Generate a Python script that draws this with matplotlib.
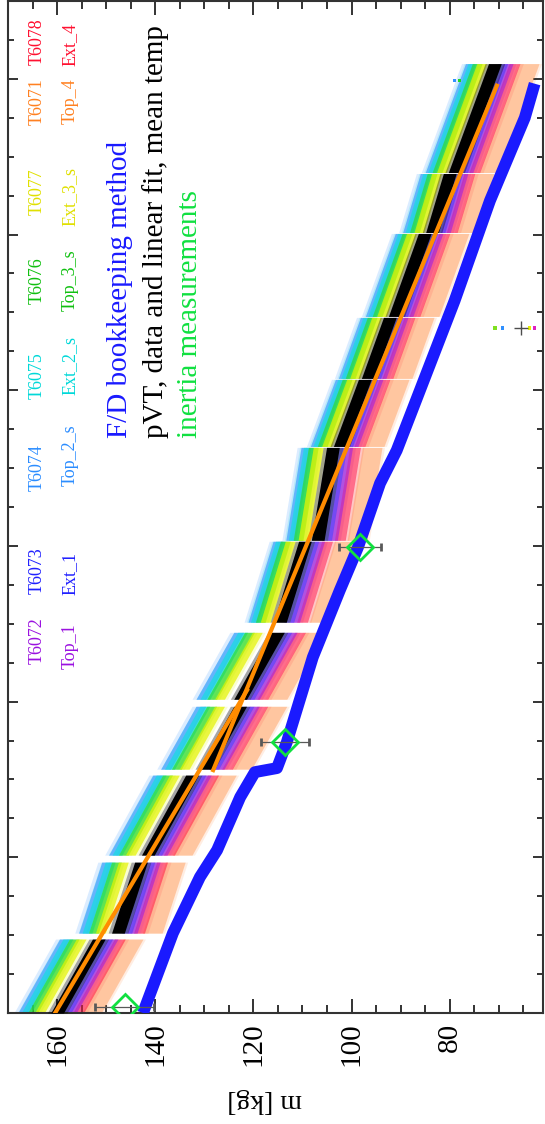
import matplotlib
matplotlib.use('Agg')
import matplotlib.pyplot as plt
from matplotlib.ticker import MultipleLocator, NullFormatter

plt.rcParams['font.family'] = ['Liberation Serif', 'DejaVu Serif']

# vertical axis: time [days], horizontal axis: mass m [kg] (decreasing to the right)
fd_time = [0.00, 0.513, 0.873, 1.046, 1.386, 1.547, 1.573, 1.739, 2.285, 2.715, 2.991,
           3.402, 3.614, 4.576, 5.218, 5.751, 5.969]
fd_mass = [142.5, 136.4, 130.9, 127.4, 122.7, 119.7, 115.2, 113.2, 107.9, 102.4, 98.7,
           94.2, 90.8, 79.0, 71.8, 64.7, 62.7]

fit1_time = [0.0, 2.073]
fit1_mass = [160.4, 121.3]
fit2_time = [1.560, 5.956]
fit2_mass = [128.2, 70.4]

inertia_time = [0.04, 1.74, 2.99]
inertia_mass = [146.2, 113.6, 98.3]
inertia_err = [6.0, 4.9, 4.3]

session_start = [0.000, 0.513, 1.014, 1.566, 2.015, 2.510, 3.036, 3.639, 4.076, 4.474, 5.013, 5.398]
session_end = [0.475, 0.969, 1.528, 1.970, 2.445, 3.030, 3.633, 4.070, 4.468, 5.007, 5.392, 6.098]

mean_start = [160.0, 147.6, 141.5, 129.9, 122.7, 114.6, 106.9, 102.4, 96.7, 91.2, 83.6, 79.0]
mean_end = [151.5, 142.9, 132.5, 122.7, 115.0, 109.5, 103.8, 97.3, 92.2, 85.1, 80.0, 70.8]

# drawn in this order (outer bands first)
sensor_names = ['T6071', 'T6078', 'T6072', 'T6073', 'T6074', 'T6075', 'T6076', 'T6077']
sensor_colors = ['#ffa060', '#ff1848', '#a020e0', '#3838ff', '#3898ff', '#10e0e0', '#30dc20', '#e4f400']
sensor_start = [
    [153.0, 140.6, 134.5, 122.4, 115.2, 106.6, 98.9, 95.4, 89.7, 84.2, 76.6, 72.0],
    [155.7, 143.3, 137.2, 125.4, 118.2, 110.1, 102.4, 98.4, 92.7, 87.2, 79.6, 75.0],
    [157.1, 144.7, 138.6, 127.0, 119.8, 111.6, 103.9, 99.7, 94.0, 88.5, 80.9, 76.3],
    [158.2, 145.8, 139.7, 128.1, 120.9, 112.8, 105.1, 100.8, 95.1, 89.6, 82.0, 77.4],
    [167.0, 154.6, 148.5, 137.9, 130.7, 120.1, 112.4, 107.4, 101.7, 96.2, 88.6, 84.0],
    [166.3, 153.9, 147.8, 137.1, 129.9, 119.6, 111.9, 106.9, 101.2, 95.7, 88.1, 83.5],
    [165.0, 152.6, 146.5, 135.7, 128.5, 118.6, 110.9, 106.0, 100.3, 94.8, 87.2, 82.6],
    [163.6, 151.2, 145.1, 134.1, 126.9, 117.6, 109.9, 105.1, 99.4, 93.9, 86.3, 81.7],
]
sensor_end = [
    [144.5, 135.9, 125.5, 115.2, 107.5, 101.5, 95.8, 90.3, 85.2, 78.1, 73.0, 63.8],
    [147.2, 138.6, 128.2, 118.2, 110.5, 105.0, 99.3, 93.3, 88.2, 81.1, 76.0, 66.8],
    [148.6, 140.0, 129.6, 119.8, 112.1, 106.5, 100.8, 94.6, 89.5, 82.4, 77.3, 68.1],
    [149.7, 141.1, 130.7, 120.9, 113.2, 107.7, 102.0, 95.7, 90.6, 83.5, 78.4, 69.2],
    [158.5, 149.9, 139.5, 130.7, 123.0, 115.0, 109.3, 102.3, 97.2, 90.1, 85.0, 75.8],
    [157.8, 149.2, 138.8, 129.9, 122.2, 114.5, 108.8, 101.8, 96.7, 89.6, 84.5, 75.3],
    [156.5, 147.9, 137.5, 128.5, 120.8, 113.5, 107.8, 100.9, 95.8, 88.7, 83.6, 74.4],
    [155.1, 146.5, 136.1, 126.9, 119.2, 112.5, 106.8, 100.0, 94.9, 87.8, 82.7, 73.5],
]
sensor_halfwidth = [2.0, 1.1, 1.0, 1.0, 1.0, 1.0, 1.0, 1.0]
sensor_halo = [2.5, 1.8, 1.6, 1.6, 1.8, 1.8, 1.6, 1.6]
sensor_alpha = [0.5, 0.55, 0.6, 0.5, 0.65, 0.65, 0.65, 0.7]

# isolated outlier readings
outlier_time = [4.40, 4.40, 4.40, 4.40, 5.99, 5.99]
outlier_mass = [70.8, 69.2, 63.7, 62.7, 79.0, 78.0]
outlier_colors = ['#80e020', '#3090ff', '#e8f000', '#e020c0', '#3090ff', '#20d820']
outlier_cross_time = [4.40]
outlier_cross_mass = [65.5]

label_ids = ['T6072', 'T6073', 'T6074', 'T6075', 'T6076', 'T6077', 'T6071', 'T6078']
label_names = ['Top_1', 'Ext_1', 'Top_2_s', 'Ext_2_s', 'Top_3_s', 'Ext_3_s', 'Top_4', 'Ext_4']
label_colors = ['#9a10e0', '#2020ff', '#2a8cff', '#00d8d8', '#10c010', '#e0e000', '#ff8020', '#ff1030']
label_id_pos = [0.368, 0.437, 0.539, 0.630, 0.724, 0.812, 0.901, 0.960]
label_name_pos = [0.363, 0.434, 0.551, 0.640, 0.724, 0.807, 0.901, 0.957]

fig = plt.figure(figsize=(5.45, 11.24), dpi=100)
ax = fig.add_axes([8 / 545, 111 / 1124, 535 / 545, 1012 / 1124])

# soft halo first, then the dense core of each reading band
for col, hh, ms, me in zip(sensor_colors, sensor_halo, sensor_start, sensor_end):
    for ts, te, a, b in zip(session_start, session_end, ms, me):
        ax.fill_betweenx([ts, te], [a - hh, b - hh], [a + hh, b + hh],
                         color=col, alpha=0.18, lw=0, zorder=1)
for col, al, hw, ms, me in zip(sensor_colors, sensor_alpha, sensor_halfwidth, sensor_start, sensor_end):
    for ts, te, a, b in zip(session_start, session_end, ms, me):
        ax.fill_betweenx([ts, te], [a - hw, b - hw], [a + hw, b + hw], color=col, alpha=al,
                         lw=0, zorder=2)
for ts, te, a, b in zip(session_start, session_end, mean_start, mean_end):
    ax.fill_betweenx([ts, te], [a - 2.0, b - 2.0], [a + 2.0, b + 2.0], color='black', alpha=0.35,
                     lw=0, zorder=3)
    ax.fill_betweenx([ts, te], [a - 1.3, b - 1.3], [a + 1.3, b + 1.3], color='black', lw=0, zorder=3)

ax.scatter(outlier_mass, outlier_time, s=6, c=outlier_colors, marker='s', lw=0, zorder=3)
ax.plot(outlier_cross_mass, outlier_cross_time, '+', color='0.3', ms=10, mew=1, zorder=3)

ax.plot(fd_mass, fd_time, color='#1a1aff', lw=8.5, solid_capstyle='butt', zorder=4)
ax.plot(fit1_mass, fit1_time, color='#ff8c00', lw=3, zorder=5)
ax.plot(fit2_mass, fit2_time, color='#ff8c00', lw=3, zorder=5)
ax.errorbar(inertia_mass, inertia_time, xerr=inertia_err, fmt='D', mfc='none', mec='#10e040',
            mew=2, ms=13, ecolor='0.35', elinewidth=0.9, capsize=3, zorder=6)

ax.set_xlim(170, 61)
ax.set_ylim(0, 6.5)
ax.xaxis.set_major_locator(MultipleLocator(20))
ax.xaxis.set_minor_locator(MultipleLocator(5))
ax.yaxis.set_major_locator(MultipleLocator(1))
ax.yaxis.set_minor_locator(MultipleLocator(0.25))
ax.yaxis.set_major_formatter(NullFormatter())
ax.tick_params(axis='x', which='both', direction='in', top=True, bottom=True, width=1.4,
               labelrotation=90, labelsize=21, pad=7, color='#333333')
ax.tick_params(axis='x', which='major', length=10)
ax.tick_params(axis='x', which='minor', length=6)
ax.tick_params(axis='y', which='both', direction='in', left=True, right=True, width=1.4, color='#333333')
ax.tick_params(axis='y', which='major', length=7)
ax.tick_params(axis='y', which='minor', length=4)
for s in ax.spines.values():
    s.set_linewidth(1.5)
    s.set_color('#333333')

fig.text(265 / 545, 1 - 1100 / 1124, 'm [kg]', rotation=180, ha='center', va='center', fontsize=20)

ax.text(0.2093, 0.5686, 'F/D bookkeeping method', transform=ax.transAxes, rotation=90,
        ha='center', va='bottom', fontsize=21, color='#1a1aff')
ax.text(0.2748, 0.5686, 'pVT, data and linear fit, mean temp', transform=ax.transAxes, rotation=90,
        ha='center', va='bottom', fontsize=21, color='black')
ax.text(0.340, 0.5686, 'inertia measurements', transform=ax.transAxes, rotation=90,
        ha='center', va='bottom', fontsize=21, color='#10e040')

for lid, lnm, col, py, pn in zip(label_ids, label_names, label_colors, label_id_pos, label_name_pos):
    ax.text(29 / 535, py, lid, transform=ax.transAxes, rotation=90, ha='center', va='center',
            fontsize=13, color=col)
    ax.text(62 / 535, pn, lnm, transform=ax.transAxes, rotation=90, ha='center', va='center',
            fontsize=13, color=col)

fig.savefig('out.png', dpi=100)
